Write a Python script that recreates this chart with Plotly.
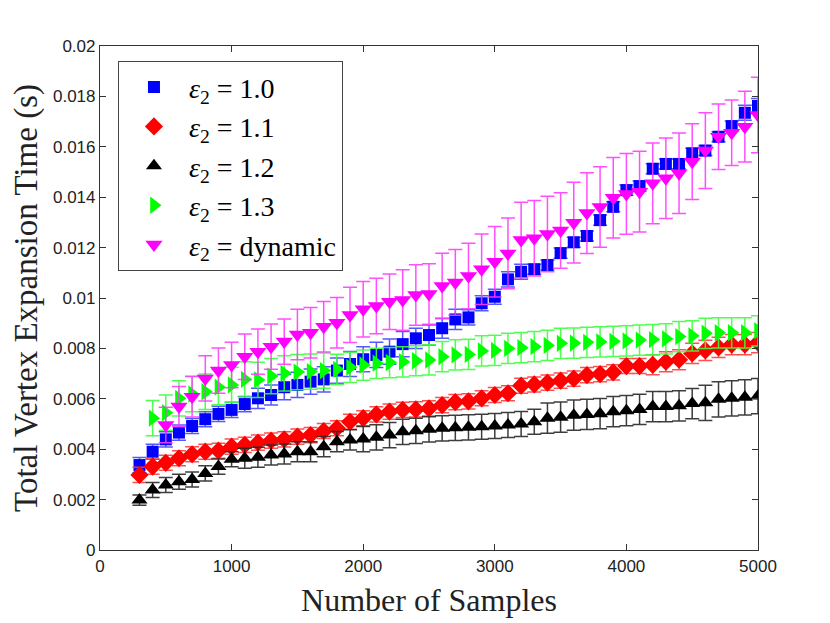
import plotly.graph_objects as go

# sample counts
x_full = list(range(300, 5100, 100))
x_green = list(range(400, 5100, 100))
x_magenta = list(range(500, 5100, 100))

# mean expansion times (s)
eps_10 = [0.00337, 0.0039, 0.00439, 0.00466, 0.00492, 0.00519, 0.0054, 0.00556,
          0.00579, 0.00602, 0.00615, 0.00646, 0.00655, 0.00668, 0.00677, 0.00712,
          0.00738, 0.00757, 0.00774, 0.00787, 0.00817, 0.0084, 0.00853, 0.0088,
          0.00915, 0.00923, 0.00979, 0.01005, 0.01074, 0.01104, 0.01114, 0.01131,
          0.01178, 0.01221, 0.01246, 0.01309, 0.01362, 0.01428, 0.01444, 0.01513,
          0.01532, 0.01532, 0.01574, 0.01585, 0.0164, 0.01682, 0.01735, 0.01762]
eps_11 = [0.00298, 0.00331, 0.00346, 0.00364, 0.0038, 0.0039, 0.00394, 0.0041,
          0.00417, 0.00426, 0.00434, 0.00439, 0.0045, 0.00456, 0.00472, 0.00483,
          0.00509, 0.00523, 0.00538, 0.00549, 0.00556, 0.00558, 0.00562, 0.00575,
          0.00587, 0.0059, 0.00602, 0.00615, 0.00622, 0.00652, 0.00657, 0.00664,
          0.00672, 0.0068, 0.00694, 0.00698, 0.00705, 0.0073, 0.0073, 0.00735,
          0.00747, 0.00755, 0.0078, 0.00792, 0.00804, 0.00815, 0.00815, 0.00823]
eps_12 = [0.00198, 0.00238, 0.00258, 0.00271, 0.0028, 0.00304, 0.00331, 0.0036,
          0.00364, 0.00368, 0.00377, 0.00381, 0.0039, 0.0039, 0.0041, 0.0043,
          0.00437, 0.0044, 0.00447, 0.00456, 0.00469, 0.00473, 0.00479, 0.00483,
          0.00485, 0.00487, 0.00489, 0.00492, 0.00496, 0.005, 0.00509, 0.00523,
          0.00527, 0.00535, 0.00538, 0.00541, 0.00549, 0.00553, 0.00558, 0.00569,
          0.00569, 0.00572, 0.00581, 0.00584, 0.00598, 0.00602, 0.00606, 0.00611]
eps_13 = [0.00523, 0.00545, 0.00602, 0.00619, 0.00628, 0.00646, 0.00655, 0.00677,
          0.00675, 0.0069, 0.00701, 0.00706, 0.00708, 0.00712, 0.00717, 0.00725,
          0.00734, 0.00741, 0.00744, 0.00747, 0.00751, 0.00754, 0.00767, 0.00774,
          0.00776, 0.0079, 0.00792, 0.008, 0.00803, 0.00807, 0.00812, 0.0082,
          0.00821, 0.00824, 0.00826, 0.00828, 0.00830, 0.00833, 0.00835, 0.00838,
          0.00847, 0.0085, 0.0086, 0.00862, 0.00862, 0.00862, 0.0087]
eps_dyn = [0.00496, 0.00569, 0.00608, 0.00681, 0.00712, 0.00734, 0.00767, 0.00787,
           0.00807, 0.00827, 0.00855, 0.00862, 0.00886, 0.00902, 0.00933, 0.00955,
           0.00968, 0.00985, 0.00992, 0.01012, 0.01016, 0.01048, 0.01062, 0.01087,
           0.01114, 0.01144, 0.01177, 0.0123, 0.01237, 0.01254, 0.01268, 0.01299,
           0.01337, 0.01361, 0.01398, 0.01413, 0.01422, 0.01455, 0.01475, 0.01495,
           0.01541, 0.01585, 0.0164, 0.01656, 0.0168, 0.01726]

# standard deviations (s)
err_10 = [0.0003, 0.0003, 0.0003, 0.0003, 0.0003, 0.0003, 0.0003, 0.0003,
          0.0003, 0.0004, 0.0004, 0.0005, 0.0005, 0.0005, 0.0005, 0.0005,
          0.0005, 0.0005, 0.0005, 0.0005, 0.0005, 0.0004, 0.0004, 0.0004,
          0.0004, 0.0003, 0.0003, 0.0003, 0.0003, 0.0003, 0.0002, 0.0002,
          0.0002, 0.0002, 0.0002, 0.0002, 0.0002, 0.0002, 0.0002, 0.0002,
          0.0002, 0.0002, 0.0002, 0.0002, 0.0002, 0.0002, 0.0003, 0.0003]
err_11 = [0.0003, 0.0003, 0.0003, 0.0003, 0.0003, 0.0003, 0.0003, 0.0003,
          0.0003, 0.0003, 0.0003, 0.0003, 0.0003, 0.0003, 0.0003, 0.0003,
          0.0003, 0.0003, 0.0003, 0.0003, 0.0003, 0.0003, 0.0003, 0.0003,
          0.0003, 0.0003, 0.0003, 0.0003, 0.0003, 0.0003, 0.0003, 0.0003,
          0.0003, 0.0003, 0.0003, 0.0003, 0.0003, 0.0003, 0.0003, 0.0004,
          0.0004, 0.0004, 0.0004, 0.0004, 0.0004, 0.0004, 0.0004, 0.0004]
err_12 = [0.0002, 0.0003, 0.0003, 0.0003, 0.0003, 0.0003, 0.0003, 0.0003,
          0.0004, 0.0004, 0.0004, 0.0004, 0.0004, 0.0004, 0.0004, 0.0004,
          0.0004, 0.0005, 0.0005, 0.0005, 0.0005, 0.0005, 0.0005, 0.0005,
          0.0005, 0.0005, 0.0005, 0.0005, 0.0005, 0.0005, 0.0005, 0.0006,
          0.0006, 0.0006, 0.0006, 0.0006, 0.0006, 0.0006, 0.0006, 0.0006,
          0.0006, 0.0006, 0.0006, 0.0007, 0.0007, 0.0007, 0.0007, 0.0007]
err_13 = [0.0007, 0.0007, 0.0007, 0.0007, 0.0007, 0.0007, 0.0007, 0.0007,
          0.0007, 0.0007, 0.0007, 0.0007, 0.0007, 0.0007, 0.0006, 0.0006,
          0.0006, 0.0006, 0.0006, 0.0006, 0.0006, 0.0006, 0.0006, 0.0006,
          0.0006, 0.0006, 0.0006, 0.0006, 0.0006, 0.0006, 0.0006, 0.0006,
          0.0006, 0.0006, 0.0006, 0.0006, 0.0006, 0.0006, 0.0006, 0.0006,
          0.0006, 0.0006, 0.0006, 0.0006, 0.0006, 0.0006, 0.0006]
err_dyn = [0.0007, 0.0008, 0.0008, 0.0009, 0.0009, 0.0009, 0.0009, 0.0009,
           0.0009, 0.0009, 0.001, 0.001, 0.001, 0.001, 0.0011, 0.0011,
           0.0011, 0.0011, 0.0012, 0.0012, 0.0012, 0.0013, 0.0013, 0.0013,
           0.0014, 0.0014, 0.0014, 0.0015, 0.0015, 0.0015, 0.0015, 0.0016,
           0.0016, 0.0016, 0.0016, 0.0016, 0.0016, 0.0016, 0.0016, 0.0016,
           0.0015, 0.0015, 0.0013, 0.0013, 0.0014, 0.0015]

# math-style spacing around "=" as in the typeset legend
EQ = '\u2005=\u2005'
series = [
    ('<i>ε</i><sub>2</sub>' + EQ + '1.0', x_full, eps_10, err_10, 'square', 12, '#0000ff', 'rgba(70,70,255,0.9)'),
    ('<i>ε</i><sub>2</sub>' + EQ + '1.1', x_full, eps_11, err_11, 'diamond', 14, '#ff0000', 'rgba(255,60,60,0.9)'),
    ('<i>ε</i><sub>2</sub>' + EQ + '1.2', x_full, eps_12, err_12, 'triangle-up', 14, '#000000', 'rgba(40,40,40,0.9)'),
    ('<i>ε</i><sub>2</sub>' + EQ + '1.3', x_green, eps_13, err_13, 'triangle-right', 15, '#00ff00', 'rgba(60,255,60,0.9)'),
    ('<i>ε</i><sub>2</sub>' + EQ + 'dynamic', x_magenta, eps_dyn, err_dyn, 'triangle-down', 15, '#ff00ff', 'rgba(255,60,255,0.9)'),
]

fig = go.Figure()
for i, (name, xs, ys, errs, sym, size, col, ecol) in enumerate(series):
    fig.add_trace(go.Scatter(
        x=xs, y=ys, name=name, mode='markers', legendgroup=str(i),
        marker=dict(symbol=sym, size=size, color=col, line=dict(width=0)),
        error_y=dict(type='data', array=errs, visible=True,
                     color=ecol, thickness=1.5, width=7),
    ))

serif = 'Liberation Serif, Times New Roman, serif'
axis_common = dict(
    showline=True, linecolor='#333333', linewidth=1.2, mirror='ticks',
    ticks='inside', ticklen=6, tickcolor='#333333', showgrid=False, zeroline=False,
    automargin=False,
    tickfont=dict(family='Liberation Sans, Arial', size=17, color='#222222'),
)

# the page body adds an 8px offset, so the figure is drawn 8px smaller
fig.update_layout(
    width=822, height=615,
    margin=dict(l=92, r=72, t=38, b=73),
    paper_bgcolor='white', plot_bgcolor='white',
    xaxis=dict(range=[0, 5000], dtick=1000,
               title=dict(text='Number of Samples', standoff=14,
                          font=dict(family=serif, size=32, color='#222222')),
               **axis_common),
    yaxis=dict(range=[0, 0.02], dtick=0.002,
               title=dict(text='Total Vertex Expansion Time (s)', standoff=24,
                          font=dict(family=serif, size=33, color='#222222')),
               **axis_common),
    legend=dict(x=0.027, y=0.97, xanchor='left', yanchor='top',
                bgcolor='white', bordercolor='#444444', borderwidth=1.2,
                font=dict(family=serif, size=28, color='black'),
                itemwidth=60, tracegroupgap=0, traceorder='grouped'),
    showlegend=True,
)

fig.write_html("out.html")
